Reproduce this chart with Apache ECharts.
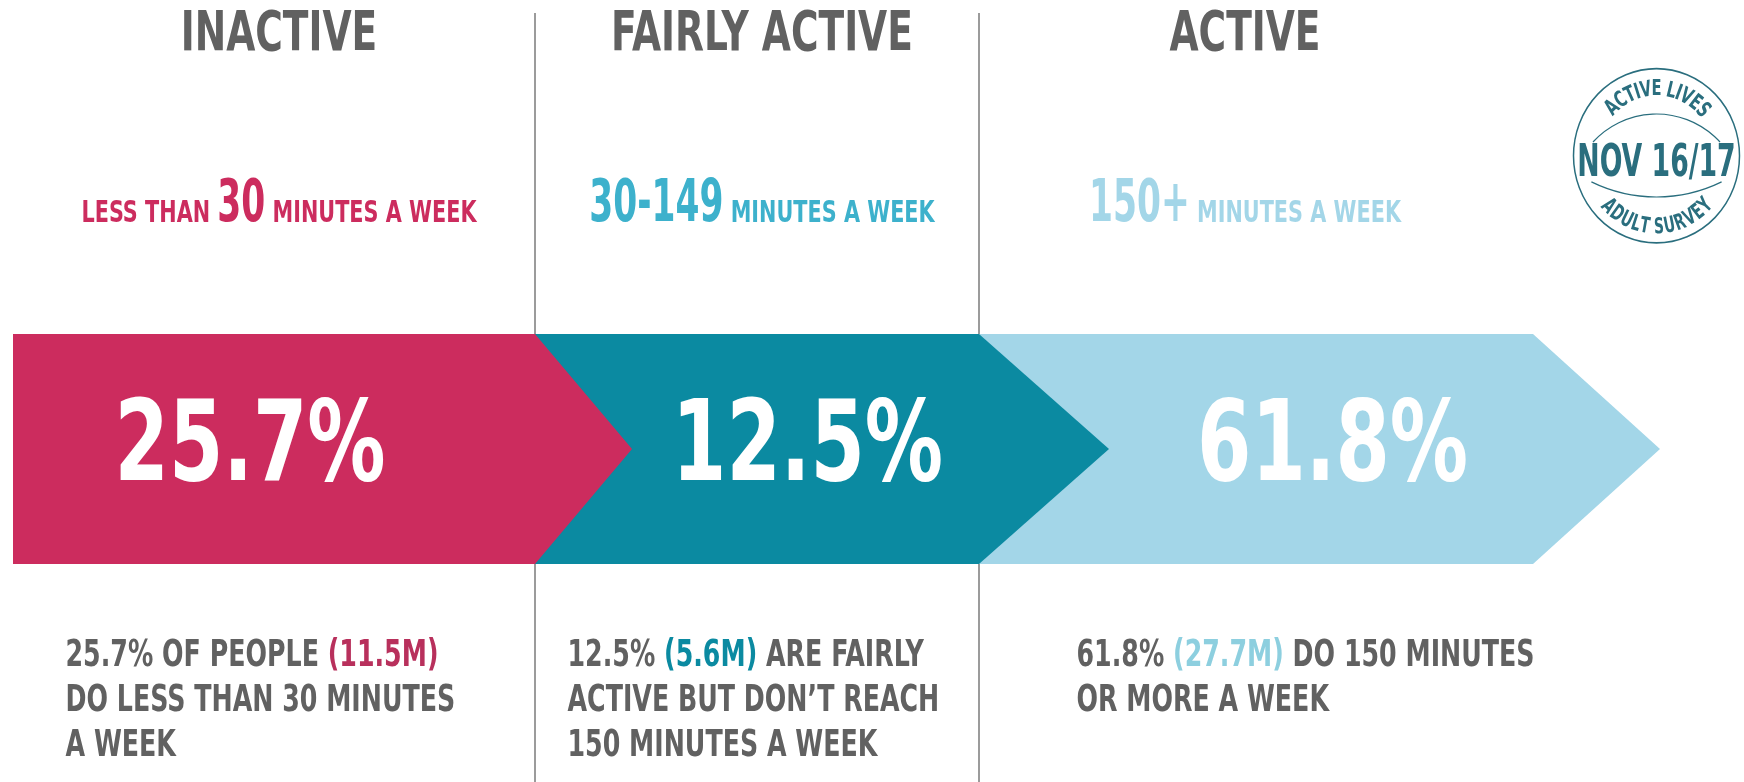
<!DOCTYPE html>
<html>
<head>
<meta charset="utf-8">
<script src="https://cdn.jsdelivr.net/npm/echarts@6/dist/echarts.min.js"></script>
<style>
html, body { margin: 0; padding: 0; background: #fff; }
#chart { width: 1744px; height: 782px; }
</style>
</head>
<body>
<div id="chart"></div>
<script>
var categories = ['INACTIVE', 'FAIRLY ACTIVE', 'ACTIVE'];
var percents = [25.7, 12.5, 61.8];
var millions = [11.5, 5.6, 27.7];
var minutePrefix = ['LESS THAN ', '', ''];
var minuteRange = ['30', '30-149', '150+'];
var minuteSuffix = ' MINUTES A WEEK';
var descTemplates = [
	['#P OF PEOPLE #M', 'DO LESS THAN 30 MINUTES', 'A WEEK'],
	['#P #M ARE FAIRLY', 'ACTIVE BUT DON\u2019T REACH', '150 MINUTES A WEEK'],
	['#P #M DO 150 MINUTES', 'OR MORE A WEEK']
];
var stampTop = 'ACTIVE LIVES';
var stampMid = 'NOV 16/17';
var stampBottom = 'ADULT SURVEY';

var barColors = ['#cc2c5e', '#0b8aa1', '#a3d6e8'];
var rangeColors = ['#cc2c5e', '#3db1cc', '#a3d6e8'];
var millionColors = ['#b8305c', '#0b8aa1', '#8dcfdf'];
var grey = '#616161';
var stampColor = '#2a6e7e';

// hand layout of the infographic (px)
var edgeShift = [-24.5, 14.5, -24.5, 46.5];
var tipLen = [97, 130, 127];
var pctShift = [-29, 45.5, 87.5];
var descShift = [-213.5, -194.5, -168.5];

var FONT = '"DejaVu Sans Condensed", "DejaVu Sans", sans-serif';
var measureCtx = document.createElement('canvas').getContext('2d');
function textWidth(str, size) {
	measureCtx.font = 'bold ' + size + 'px ' + FONT;
	return measureCtx.measureText(str).width;
}
// text whose baseline sits at y
function txt(x, y, str, size, color, sx, align, rich) {
	var style = {
		text: str, x: 0, y: 0, fill: color,
		fontSize: size, fontWeight: 'bold', fontFamily: FONT,
		align: align || 'left', verticalAlign: 'middle'
	};
	if (rich) style.rich = rich;
	return { type: 'text', x: x, y: y - size * 0.297, scaleX: sx, z2: 20, silent: true, style: style };
}

function deg(a) { return a * Math.PI / 180; }

// letters laid one by one round the stamp
function arcText(str, cx, cy, r, ys, a0, a1, size, bottom) {
	var chars = str.split('');
	var ws = chars.map(function (ch) { return textWidth(ch, size); });
	var total = ws.reduce(function (a, b) { return a + b; }, 0);
	var span = total - ws[0] / 2 - ws[ws.length - 1] / 2;
	var k = deg(Math.abs(a1 - a0)) * r / span;
	var dir = a1 > a0 ? 1 : -1;
	var acc = 0, els = [];
	chars.forEach(function (ch, j) {
		var pos = (acc + ws[j] / 2 - ws[0] / 2) * k;
		acc += ws[j];
		var th = a0 + dir * pos / r * 180 / Math.PI;
		var rot = bottom ? (90 - th) : -(th + 90);
		els.push({
			type: 'text', x: cx + r * Math.cos(deg(th)), y: cy + r * ys * Math.sin(deg(th)),
			rotation: deg(rot), scaleX: k,
			style: { text: ch, align: 'center', verticalAlign: 'middle', fill: stampColor,
				fontSize: size, fontWeight: 'bold', fontFamily: FONT }
		});
	});
	return els;
}

function renderItem(params, api) {
	var i = params.dataIndex;
	var cs = params.coordSys;
	var cx = api.coord([i, 0])[0];
	var band = api.size([1, 0])[0];
	var left = cx - band / 2 + edgeShift[i];
	var right = cx + band / 2 + edgeShift[i + 1];
	var top = cs.y + 334, bottom = cs.y + 564, mid = (top + bottom) / 2;
	var kids = [];

	if (i > 0) {
		kids.push({ type: 'line', z2: 0, silent: true,
			shape: { x1: left, y1: cs.y + 13, x2: left, y2: cs.y + cs.height },
			style: { stroke: '#7a7a7a', lineWidth: 1.5 } });
	}
	kids.push({ type: 'polygon', z2: 10 - i,
		shape: { points: [[left, top], [right, top], [right + tipLen[i], mid], [right, bottom], [left, bottom]] },
		style: { fill: barColors[i] } });

	kids.push(txt(cx + pctShift[i], cs.y + 484, api.value(1).toFixed(1) + '%', 112, '#fff', 0.775, 'center'));
	kids.push(txt(cx, cs.y + 52, categories[i], 55, grey, 0.76, 'center'));

	// minutes subtitle, two sizes on one baseline
	var sBig = 58, sSmall = 30, kBig = 0.66, kSmall = 0.77;
	var wPre = minutePrefix[i] ? textWidth(minutePrefix[i], sSmall) * kSmall : 0;
	var wBig = textWidth(minuteRange[i], sBig) * kBig;
	var wSuf = textWidth(minuteSuffix, sSmall) * kSmall;
	var x0 = cx - (wPre + wBig + wSuf) / 2;
	var base = cs.y + 223;
	if (wPre) kids.push(txt(x0, base, minutePrefix[i], sSmall, rangeColors[i], kSmall));
	kids.push(txt(x0 + wPre, base, minuteRange[i], sBig, rangeColors[i], kBig));
	kids.push(txt(x0 + wPre + wBig, base, minuteSuffix, sSmall, rangeColors[i], kSmall));

	// description lines
	var rich = { m: { fill: millionColors[i], fontSize: 37, fontWeight: 'bold', fontFamily: FONT } };
	descTemplates[i].forEach(function (line, k) {
		var s = line.replace('#P', percents[i].toFixed(1) + '%').replace('#M', '{m|(' + millions[i] + 'M)}');
		kids.push(txt(cx + descShift[i], cs.y + 667 + k * 45, s, 37, grey, 0.76, 'left', rich));
	});

	return { type: 'group', children: kids };
}

var stampX = 1656.5, stampY = 155.75, stampYs = 1.05;
var stamp = [
	{ type: 'circle', x: stampX, y: stampY, scaleY: stampYs, shape: { cx: 0, cy: 0, r: 83 },
		style: { fill: 'none', stroke: stampColor, lineWidth: 1.5 } },
	{ type: 'arc', shape: { cx: stampX, cy: 200, r: 86, startAngle: deg(-137.6), endAngle: deg(-42.4), clockwise: true },
		style: { fill: 'none', stroke: stampColor, lineWidth: 1.2 } },
	{ type: 'arc', shape: { cx: stampX, cy: 49, r: 148, startAngle: deg(63.9), endAngle: deg(116.1), clockwise: true },
		style: { fill: 'none', stroke: stampColor, lineWidth: 1.2 } },
	{ type: 'text', x: stampX, y: 161.5 + 45 * 0.0675, scaleX: 0.66,
		style: { text: stampMid, align: 'center', verticalAlign: 'middle', fill: stampColor, fontSize: 45, fontWeight: 'bold', fontFamily: FONT } }
].concat(arcText(stampTop, stampX, stampY, 63, stampYs, -134, -43, 22, false))
 .concat(arcText(stampBottom, stampX, stampY, 68.5, stampYs, 135, 44, 22, true));

var myChart = echarts.init(document.getElementById('chart'));
var option = {
	animation: false,
	grid: { left: 37.5, right: 257.5, top: 0, bottom: 0 },
	xAxis: { type: 'category', data: categories, show: false },
	yAxis: { type: 'value', min: 0, max: 100, show: false },
	graphic: stamp,
	series: [{
		type: 'custom',
		renderItem: renderItem,
		data: percents.map(function (p, i) { return [i, p]; })
	}]
};
myChart.setOption(option);
</script>
</body>
</html>
